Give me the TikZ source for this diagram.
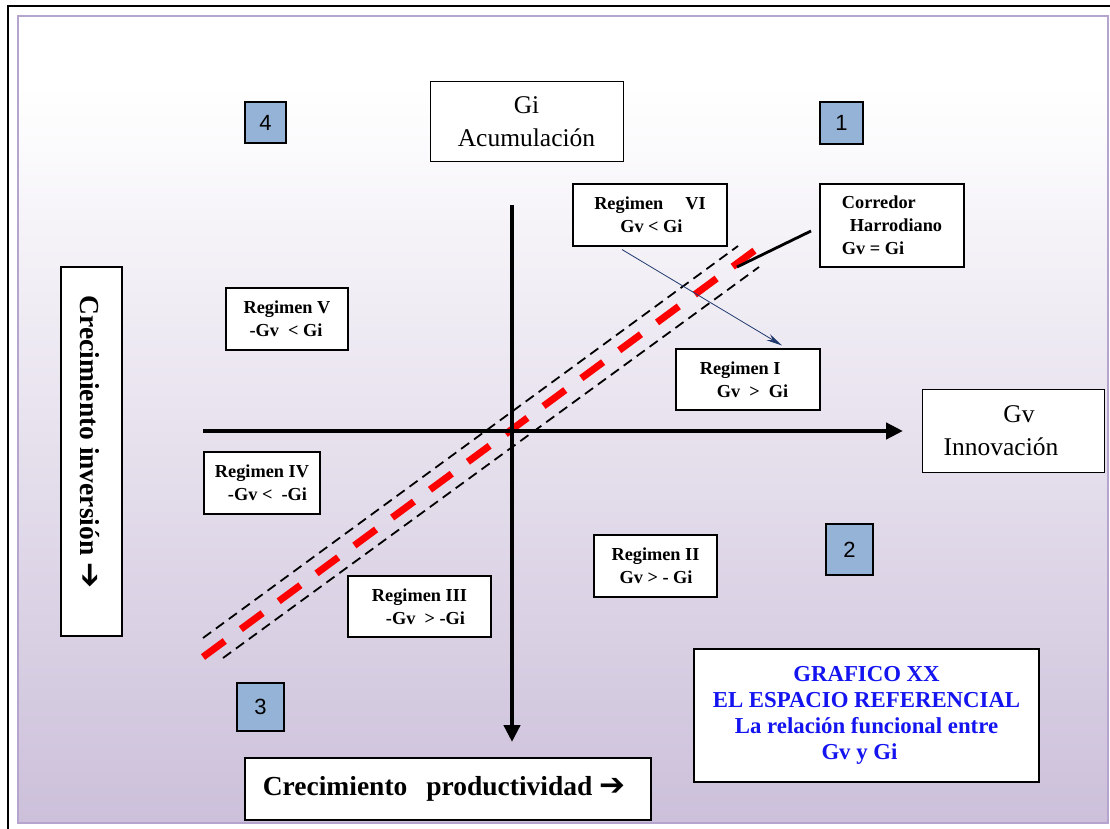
\documentclass[tikz,border=0pt]{standalone}
\usepackage{fontspec}
\setmainfont{Liberation Serif}
\newfontfamily\numfamily{Liberation Sans}
\newfontfamily\symfamily{DejaVu Sans}
\usetikzlibrary{arrows.meta}

\definecolor{bgbottom}{RGB}{204,192,218}
\definecolor{frameviolet}{RGB}{180,164,206}
\definecolor{numblue}{RGB}{149,179,215}
\definecolor{linknavy}{RGB}{31,56,110}
\definecolor{titleblue}{RGB}{20,20,240}

\newcommand{\regfont}{\fontsize{18.3}{23}\selectfont\bfseries}
\newcommand{\bigfont}{\fontsize{25.5}{33}\selectfont}
\newcommand{\labfont}{\fontsize{27.5}{30}\selectfont\bfseries}
\newcommand{\numfont}{\fontsize{22}{24}\selectfont\numfamily}
\newcommand{\titlefont}{\fontsize{22.8}{26}\selectfont\bfseries}
\newcommand{\rarrow}{{\symfamily\bfseries\fontsize{31}{30}\selectfont ➔}}

\tikzset{
  regbox/.style={draw=black, line width=1.1pt, fill=white, font=\regfont,
    align=left, inner sep=0pt},
  numbox/.style={draw=black, line width=1.1pt, fill=numblue, font=\numfont,
    inner sep=0pt},
  bigbox/.style={draw=black, line width=1pt, fill=white, font=\bigfont,
    align=center, inner sep=0pt},
  labbox/.style={draw=black, line width=1.1pt, fill=white, font=\labfont,
    inner sep=0pt},
  axis/.style={line width=4.5pt, -{Triangle[length=17pt,width=16pt]}},
  corridor/.style={black, line width=1.8pt, dash pattern=on 10pt off 6pt},
  harrod/.style={red, line width=7pt, dash pattern=on 27pt off 20pt},
}

\begin{document}
\begin{tikzpicture}[x=1pt, y=-1pt]
\useasboundingbox (0,0) rectangle (1110,829);

% page frame and soft violet background
\fill[white] (18,16) rectangle (1108,823);
\shade[top color=white, bottom color=bgbottom] (18,86) rectangle (1108,823);
\draw[frameviolet, line width=2pt] (18,16) rectangle (1108,823);
\draw[black, line width=1.2pt] (8,829) -- (8,6) -- (1110,6);

% corridor around the growth line Gv = Gi
\coordinate (cu0) at (203,638);  \coordinate (cu1) at (738,246);
\coordinate (cl0) at (223,658);  \coordinate (cl1) at (759,267);
\coordinate (h0)  at (203,657);  \coordinate (h1)  at (758,248);
\draw[corridor] (cu0) -- (cu1);
\draw[corridor] (cl0) -- (cl1);
\draw[harrod] (h0) -- (h1);

% axes
\coordinate (xw) at (203,431);  \coordinate (xe) at (903,431);
\coordinate (yn) at (512,205);  \coordinate (ys) at (512,742);
\draw[axis] (xw) -- (xe);
\draw[axis] (yn) -- (ys);

% quadrant numbers
\node[numbox, minimum width=41pt, minimum height=41pt] (q4) at (265.5,122.5) {4};
\node[numbox, minimum width=43pt, minimum height=42pt] (q1) at (841.5,123) {1};
\node[numbox, minimum width=47pt, minimum height=51pt] (q2) at (849.5,549.5) {2};
\node[numbox, minimum width=47pt, minimum height=48pt] (q3) at (260.5,707) {3};

% axis titles
\node[bigbox, minimum width=193pt, minimum height=80pt] (gi) at (526.5,122)
  {Gi\\Acumulación};
\node[bigbox, minimum width=182pt, minimum height=83pt] (gv) at (1013,430.5)
  {\hspace*{12pt}Gv\\Innovación\hspace*{24pt}};
\node[labbox, minimum width=61pt, minimum height=369pt] (inv) at (91.5,451.5) {};
\node[font=\labfont, rotate=-90, inner sep=0pt] (invtext) at (90,442)
  {Crecimiento inversión \rarrow};
\node[labbox, minimum width=406pt, minimum height=62pt] (prod) at (448,789)
  {\raisebox{3pt}{Crecimiento\hspace{12pt} productividad \rarrow}\hspace*{8pt}};

% regimes
\node[regbox, minimum width=122pt, minimum height=62pt] (r5) at (287,319)
  {Regimen V\\\hspace*{6pt}-Gv \ < Gi};
\node[regbox, minimum width=116pt, minimum height=62pt] (r4) at (262,483)
  {Regimen IV\\\hspace*{13pt}-Gv <\ \ -Gi};
\node[regbox, minimum width=143pt, minimum height=61pt] (r3) at (419.5,606.5)
  {Regimen III\\\hspace*{14pt}-Gv \ > -Gi};
\node[regbox, minimum width=123pt, minimum height=62pt] (r2) at (655.5,566)
  {Regimen II\\\hspace*{8pt}Gv > - Gi};
\node[regbox, minimum width=144pt, minimum height=61pt] (r1) at (748,379.5)
  {Regimen I\\\hspace*{17pt}Gv \ > \ Gi\hspace*{8pt}};
\node[regbox, minimum width=154pt, minimum height=62pt] (r6) at (650,215)
  {Regimen\hspace*{22pt}VI\\\hspace*{26pt}Gv < Gi};
\node[regbox, minimum width=144pt, minimum height=83pt] (hd) at (892,225.5)
  {Corredor\\\hspace*{8pt}Harrodiano\\Gv = Gi\hspace*{8pt}};

% pointers
\coordinate (hdtail) at (737,267);
\coordinate (hdhead) at (811,231);
\draw[black, line width=2.8pt] (hdtail) -- (hdhead);
\path (r6.south) ++(-28,3) coordinate (l6);
\path (r1.north) ++(34,-3) coordinate (l1);
\draw[linknavy, line width=0.8pt, -{Stealth[length=16pt,width=7pt]}] (l6) -- (l1);

% caption
\node[draw=black, line width=1.3pt, fill=white, minimum width=345pt,
  minimum height=133pt, inner sep=0pt, font=\titlefont, text=titleblue,
  align=center] (cap) at (866.5,715.5)
  {GRAFICO XX\\EL ESPACIO REFERENCIAL\\La relación funcional entre\hspace*{6pt}\\Gv y Gi\hspace*{14pt}};
\end{tikzpicture}
\end{document}
